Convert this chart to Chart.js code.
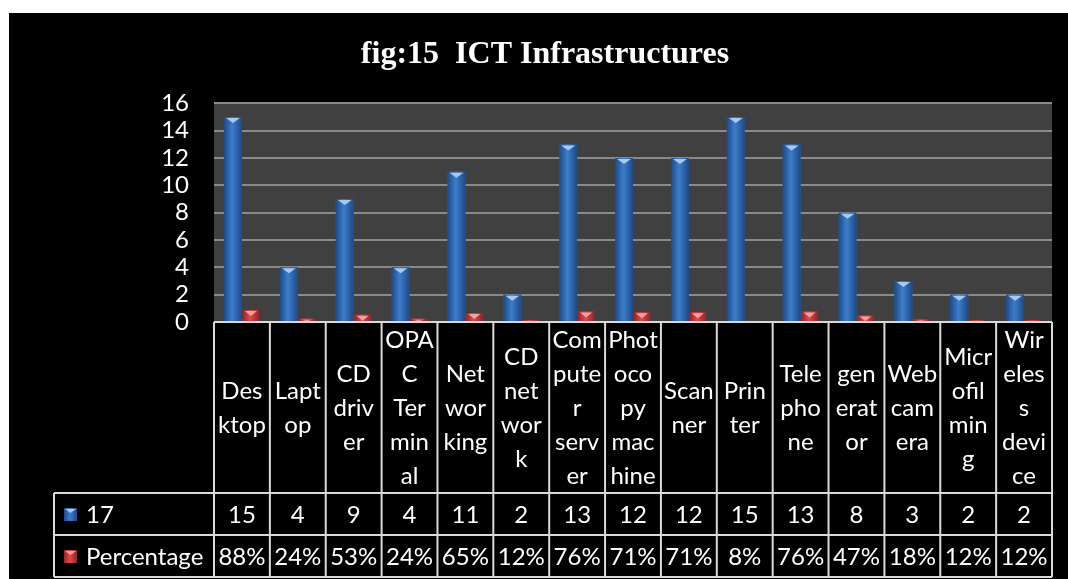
<!DOCTYPE html>
<html>
<head>
<meta charset="utf-8">
<title>fig:15 ICT Infrastructures</title>
<script src="https://cdn.jsdelivr.net/npm/chart.js@4.4.1/dist/chart.umd.min.js"></script>
<style>
  html, body { margin: 0; padding: 0; background: #fff; }
  #wrap { position: absolute; left: 9px; top: 13px; width: 1059px; height: 566px; background: #000; }
</style>
</head>
<body>
<div id="wrap"><canvas id="myChart" width="1059" height="566"></canvas></div>
<script>
// Kategori (nama lengkap) dan cara label dipotong di tabel data
var categories = ['Desktop', 'Laptop', 'CD driver', 'OPAC Terminal', 'Networking', 'CD network',
    'Computer server', 'Photocopy machine', 'Scanner', 'Printer', 'Telephone', 'generator',
    'Web camera', 'Microfilming', 'Wireless device'];
var categoryLines = [['Des', 'ktop'], ['Lapt', 'op'], ['CD', 'driv', 'er'], ['OPA', 'C', 'Ter', 'min', 'al'],
    ['Net', 'wor', 'king'], ['CD', 'net', 'wor', 'k'], ['Com', 'pute', 'r', 'serv', 'er'],
    ['Phot', 'oco', 'py', 'mac', 'hine'], ['Scan', 'ner'], ['Prin', 'ter'], ['Tele', 'pho', 'ne'],
    ['gen', 'erat', 'or'], ['Web', 'cam', 'era'], ['Micr', 'ofil', 'min', 'g'], ['Wir', 'eles', 's', 'devi', 'ce']];

// Seri data
var countLabel = '17';
var countValues = [15, 4, 9, 4, 11, 2, 13, 12, 12, 15, 13, 8, 3, 2, 2];
var pctLabel = 'Percentage';
var pctValues = [88, 24, 53, 24, 65, 12, 76, 71, 71, 8, 76, 47, 18, 12, 12];

// Label sumbu Y
var yTicks = [0, 2, 4, 6, 8, 10, 12, 14, 16];

var FONT = 'Lato, "Noto Sans", sans-serif';

// Latar abu-abu area plot
var plotBg = {
    id: 'plotBg',
    beforeDraw: function(chart) {
        var a = chart.chartArea, c = chart.ctx;
        c.save();
        c.fillStyle = '#404040';
        c.fillRect(a.left, a.top, a.right - a.left, a.bottom - a.top);
        c.restore();
    }
};

// Efek silinder pada batang
var shade = {
    id: 'shade',
    afterDatasetsDraw: function(chart) {
        var c = chart.ctx;
        c.save();
        chart.data.datasets.forEach(function(ds, di) {
            chart.getDatasetMeta(di).data.forEach(function(bar) {
                var p = bar.getProps(['x', 'y', 'base', 'width'], true);
                var l = p.x - p.width / 2, r = p.x + p.width / 2, h = p.base - p.y;
                if (h <= 0) return;
                var g = c.createLinearGradient(l, 0, r, 0);
                g.addColorStop(0, ds.shade[0]);
                g.addColorStop(0.45, ds.shade[1]);
                g.addColorStop(1, ds.shade[0]);
                c.fillStyle = g;
                c.fillRect(l, p.y, p.width, h);
                var cap = Math.min(6, h);
                c.fillStyle = ds.shade[2];
                c.beginPath();
                c.moveTo(l + 2, p.y + 1);
                c.lineTo(r - 2, p.y + 1);
                c.lineTo(p.x, p.y + cap);
                c.closePath();
                c.fill();
            });
        });
        c.restore();
    }
};

function drawKey(c, x, y, s, cols) {
    var g = c.createLinearGradient(x, 0, x + s, 0);
    g.addColorStop(0, cols[0]);
    g.addColorStop(0.45, cols[1]);
    g.addColorStop(1, cols[0]);
    c.fillStyle = g;
    c.fillRect(x, y, s, s);
    c.fillStyle = cols[2];
    c.beginPath();
    c.moveTo(x + 1, y + 1);
    c.lineTo(x + s - 1, y + 1);
    c.lineTo(x + s / 2, y + 5);
    c.closePath();
    c.fill();
}

// Tabel data di bawah plot
var dataTable = {
    id: 'dataTable',
    afterDraw: function(chart) {
        var c = chart.ctx, a = chart.chartArea, xs = chart.scales.x;
        var n = categories.length;
        var colW = (a.right - a.left) / n;
        var headTop = a.bottom, headBot = a.bottom + 171, rowH = 42;
        var rowTops = [headBot, headBot + rowH];
        var tableBot = headBot + 2 * rowH;
        var keyLeft = a.left - 160;
        var sets = chart.data.datasets;

        c.save();
        c.strokeStyle = '#d9d9d9';
        c.lineWidth = 2;
        c.beginPath();
        c.moveTo(a.left, headTop); c.lineTo(a.right, headTop);
        [headBot, headBot + rowH, tableBot].forEach(function(y) {
            c.moveTo(keyLeft, y); c.lineTo(a.right, y);
        });
        c.moveTo(keyLeft, headBot); c.lineTo(keyLeft, tableBot);
        for (var i = 0; i <= n; i++) {
            var x = a.left + i * colW;
            c.moveTo(x, headTop); c.lineTo(x, tableBot);
        }
        c.stroke();

        c.fillStyle = '#fff';
        c.font = '24px ' + FONT;
        c.textAlign = 'center';
        c.textBaseline = 'middle';
        var midHead = (headTop + headBot) / 2;
        categoryLines.forEach(function(lines, i) {
            var cx = xs.getPixelForValue(i);
            lines.forEach(function(t, k) {
                c.fillText(t, cx, midHead + (k - (lines.length - 1) / 2) * 34 + 1);
            });
        });

        var rowText = [countValues.map(String), pctValues.map(function(v) { return v + '%'; })];
        rowText.forEach(function(vals, r) {
            var cy = rowTops[r] + rowH / 2 + 1;
            c.textAlign = 'center';
            c.fillStyle = '#fff';
            vals.forEach(function(t, i) {
                c.fillText(t, xs.getPixelForValue(i), cy);
            });
            drawKey(c, keyLeft + 10, cy - 7, 13, sets[r].shade);
            c.fillStyle = '#fff';
            c.textAlign = 'left';
            c.fillText(sets[r].label, keyLeft + 32, cy);
        });
        c.restore();
    }
};

var ctx = document.getElementById('myChart').getContext('2d');
var chart = new Chart(ctx, {
    type: 'bar',
    data: {
        labels: categories,
        datasets: [{
            label: countLabel,
            data: countValues,
            backgroundColor: '#2f67ad',
            shade: ['#1d4a86', '#3d7dcc', '#a9c9f0'],
            barPercentage: 1.0,
            categoryPercentage: 0.64
        }, {
            label: pctLabel,
            data: pctValues.map(function(v) { return v / 100; }),
            backgroundColor: '#c0393b',
            shade: ['#9b2224', '#e0494b', '#f4a0a0'],
            barPercentage: 0.9,
            categoryPercentage: 0.64
        }]
    },
    options: {
        responsive: false,
        animation: false,
        layout: { padding: { left: 29, right: 16, top: 0, bottom: 257 } },
        plugins: {
            legend: { display: false },
            tooltip: { enabled: false },
            title: {
                display: true,
                text: 'fig:15  ICT Infrastructures',
                color: '#fff',
                font: { family: '"Liberation Serif", "DejaVu Serif", serif', size: 32, weight: 'bold' },
                padding: { top: 23, bottom: 29 }
            }
        },
        scales: {
            x: { display: false },
            y: {
                min: yTicks[0],
                max: yTicks[yTicks.length - 1],
                afterBuildTicks: function(s) {
                    s.ticks = yTicks.map(function(v) { return { value: v }; });
                },
                afterFit: function(s) { s.width = 176; },
                border: { display: false },
                grid: { color: '#8a8a8a', lineWidth: 2, drawTicks: false },
                ticks: { color: '#fff', padding: 25, autoSkip: false, font: { family: FONT, size: 24 } }
            }
        }
    },
    plugins: [plotBg, shade, dataTable]
});
</script>
</body>
</html>
